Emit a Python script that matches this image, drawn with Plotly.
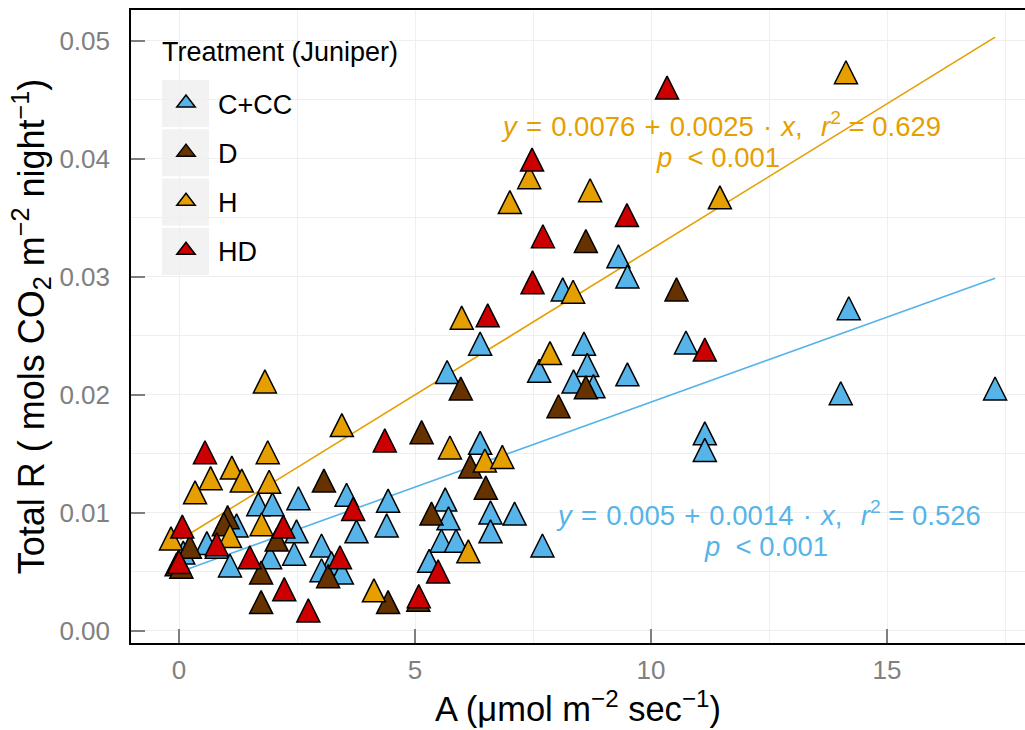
import plotly.graph_objects as go

# ---------------- data ----------------
cc_x = [6.38, 5.68, 8.58, 7.63, 8.65, 8.36, 8.78, 9.50, 10.74, 11.14, 11.14, 9.31, 9.50, 8.13,
        14.19, 14.02, 17.29, 6.38, 4.43, 4.40, 5.64, 5.71, 6.60, 7.11, 6.60, 5.56, 5.87, 5.30,
        7.70, 3.55, 2.53, 1.68, 1.98, 1.22, 2.49, 0.59, 0.80, 3.02, 2.44, 1.93, 0.09, 1.08,
        3.23, 3.02, 3.45, 3.76]
cc_y = [0.0240, 0.0216, 0.0240, 0.0217, 0.0222, 0.0208, 0.0204, 0.0214, 0.0241, 0.0164, 0.0150,
        0.0314, 0.0297, 0.0286, 0.0270, 0.0198, 0.0202, 0.0156, 0.0107, 0.0086, 0.0108, 0.0092,
        0.0097, 0.0096, 0.0081, 0.0073, 0.0073, 0.0056, 0.0069, 0.0112, 0.0109, 0.0104, 0.0104,
        0.0086, 0.0081, 0.0071, 0.0068, 0.0069, 0.0062, 0.0059, 0.0063, 0.0052, 0.0054, 0.0048,
        0.0046, 0.0081]

d_x = [8.62, 10.54, 5.97, 8.04, 8.62, 5.14, 6.17, 6.50, 5.35, 3.07, 1.03, 0.95, 2.07, 0.23,
       -0.05, 0.05, 1.74, 3.16, 1.74, 4.43, 5.07]
d_y = [0.0327, 0.0286, 0.0202, 0.0187, 0.0203, 0.0165, 0.0136, 0.0118, 0.0096, 0.0124, 0.0093,
       0.0087, 0.0074, 0.0068, 0.0053, 0.0051, 0.0046, 0.0043, 0.0021, 0.0021, 0.0023]

h_x = [14.13, 7.42, 7.01, 8.71, 11.46, 8.35, 5.99, 7.86, 1.82, 3.45, 1.88, 1.12, 0.67, 1.33,
       1.91, 0.34, 5.74, 6.48, 6.85, 1.75, 1.08, -0.17, 6.13, 4.13]
h_y = [0.0470, 0.0381, 0.0360, 0.0370, 0.0364, 0.0284, 0.0262, 0.0232, 0.0208, 0.0171, 0.0148,
       0.0135, 0.0126, 0.0124, 0.0123, 0.0114, 0.0152, 0.0141, 0.0144, 0.0087, 0.0077, 0.0075,
       0.0064, 0.0031]

hd_x = [10.34, 7.48, 9.49, 7.71, 7.49, 6.54, 11.14, 0.55, 4.36, 3.69, 0.07, 2.21, 1.50, 0.00,
        3.41, 2.23, 2.74, 5.49, 5.08, 0.80]
hd_y = [0.0457, 0.0396, 0.0349, 0.0331, 0.0292, 0.0264, 0.0235, 0.0148, 0.0158, 0.0100, 0.0085,
        0.0085, 0.0059, 0.0055, 0.0059, 0.0032, 0.0014, 0.0047, 0.0026, 0.0070]

groups = ["C+CC", "D", "H", "HD"]
group_colors = ["#56B4E9", "#663300", "#E69F00", "#CC0000"]
legend_title = "Treatment (Juniper)"

# regression fits (ambient = blue, heated = orange)
fit_intercept = [0.00497, 0.00766]
fit_slope = [0.00144, 0.002466]
fit_xmin = [-0.15, 0.02]
fit_xmax = [17.29, 17.29]
fit_colors = ["#56B4E9", "#E69F00"]
SP = "\u2004"
fit_eq = [f"<i>y</i>{SP}={SP}0.005{SP}+{SP}0.0014{SP}\u00b7{SP}<i>x</i>,{SP}{SP}<i>r</i><sup>2</sup> = 0.526",
          f"<i>y</i>{SP}={SP}0.0076{SP}+{SP}0.0025{SP}\u00b7{SP}<i>x</i>,{SP}{SP}<i>r</i><sup>2</sup> = 0.629"]
fit_p = ["<i>p</i>\u00a0 < 0.001", "<i>p</i>\u00a0 < 0.001"]
eq_x = [12.48, 11.48]
eq_y = [0.00992, 0.04288]
p_x = [12.44, 11.42]
p_y = [0.00712, 0.04008]

x_ticks = [0, 5, 10, 15]
y_ticks = [0.00, 0.01, 0.02, 0.03, 0.04, 0.05]

# ---------------- figure ----------------
FONT = "Liberation Sans, Arial, sans-serif"
MSIZE = 23

W, H = 1025, 730
L, R, T, B = 131, 0, 10, 87
pw, ph = W - L - R, H - T - B
def px2paper_x(px):
    return (px - L) / pw
def px2paper_y(py):
    return (H - B - py) / ph

fig = go.Figure()

for i in range(2):
    xs = [fit_xmin[i], fit_xmax[i]]
    ys = [fit_intercept[i] + fit_slope[i] * v for v in xs]
    fig.add_trace(go.Scatter(x=xs, y=ys, mode="lines", showlegend=False,
                             line=dict(color=fit_colors[i], width=1.6), hoverinfo="skip"))

all_x = [cc_x, d_x, h_x, hd_x]
all_y = [cc_y, d_y, h_y, hd_y]
for g, col, xs, ys in zip(groups, group_colors, all_x, all_y):
    fig.add_trace(go.Scatter(
        x=xs, y=ys, mode="markers", name=g, legendgroup=g, showlegend=False,
        marker=dict(symbol="arrow-down", angle=180, standoff=MSIZE * 2 / 3,
                    size=MSIZE, color=col, line=dict(color="black", width=1.5)),
    ))
# legend entries
for g, col in zip(groups, group_colors):
    fig.add_trace(go.Scatter(
        x=[None], y=[None], mode="markers", name=g, legendgroup=g, showlegend=True,
        marker=dict(symbol="triangle-up", size=16, color=col, line=dict(color="black", width=1.5)),
    ))

for i in range(2):
    fig.add_annotation(x=eq_x[i], y=eq_y[i], text=fit_eq[i], showarrow=False, borderpad=0,
                       font=dict(family=FONT, size=27.5, color=fit_colors[i]),
                       xanchor="center", yanchor="middle")
    fig.add_annotation(x=p_x[i], y=p_y[i], text=fit_p[i], showarrow=False, borderpad=0,
                       font=dict(family=FONT, size=27.5, color=fit_colors[i]),
                       xanchor="center", yanchor="middle")

fig.add_annotation(xref="paper", yref="paper", x=px2paper_x(160), y=px2paper_y(52),
                   text=legend_title, showarrow=False, xanchor="left", yanchor="middle",
                   font=dict(family=FONT, size=27, color="black"))

# legend key backgrounds (ggplot style grey boxes)
for k in range(4):
    top = 80 + k * 49.3
    fig.add_shape(type="rect", xref="paper", yref="paper",
                  x0=px2paper_x(162), x1=px2paper_x(209),
                  y0=px2paper_y(top + 47), y1=px2paper_y(top),
                  fillcolor="#F2F2F2", line=dict(width=0), layer="below")

grid = "#EFEFEF"
fig.update_layout(
    width=W, height=H,
    margin=dict(l=L, r=R, t=T, b=B, pad=0),
    paper_bgcolor="white", plot_bgcolor="white",
    font=dict(family=FONT, size=26, color="black"),
    showlegend=True,
    legend=dict(
        x=px2paper_x(154), xanchor="left", y=px2paper_y(79), yanchor="top",
        bgcolor="rgba(0,0,0,0)", borderwidth=0, itemwidth=54,
        tracegroupgap=11, font=dict(size=27, color="black"),
    ),
    xaxis=dict(
        range=[(L - 179) / 47.2, (W - 179) / 47.2],
        tickvals=x_ticks, ticktext=[str(v) for v in x_ticks],
        ticks="inside", ticklen=14, tickwidth=1.5, tickcolor="#7F7F7F",
        tickfont=dict(size=26, color="#808080"), ticklabelstandoff=3,
        showgrid=True, gridcolor=grid, gridwidth=1,
        minor=dict(dtick=2.5, tick0=0, showgrid=True, gridcolor=grid, gridwidth=1),
        showline=True, linecolor="black", linewidth=1.6, mirror=True,
        zeroline=False,
        title=dict(text="A (\u03bcmol m<sup>\u22122</sup> sec<sup>\u22121</sup>)",
                   font=dict(size=34.5, color="black"), standoff=3),
    ),
    yaxis=dict(
        range=[-0.00104, 0.0526],
        tickvals=y_ticks, ticktext=["%.2f" % v for v in y_ticks],
        ticks="inside", ticklen=14, tickwidth=1.5, tickcolor="#7F7F7F",
        tickfont=dict(size=26, color="#808080"), ticklabelstandoff=14,
        showgrid=True, gridcolor=grid, gridwidth=1,
        minor=dict(dtick=0.005, tick0=0, showgrid=True, gridcolor=grid, gridwidth=1),
        showline=True, linecolor="black", linewidth=1.6, mirror=False,
        zeroline=False,
        title=dict(text="Total R ( mols CO<sub>2</sub> m<sup>\u22122</sup> night<sup>\u22121</sup>)",
                   font=dict(size=36, color="black"), standoff=4),
    ),
)

fig.write_html("out.html")
